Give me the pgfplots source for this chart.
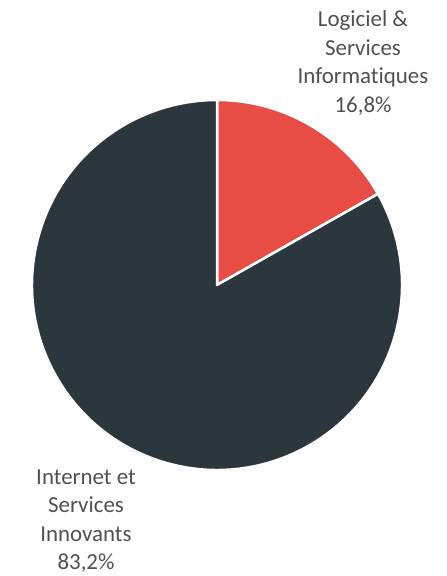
\documentclass[border=0pt]{standalone}
\usepackage{pgfplots}
\usepackage{pgfplotstable}
\pgfplotsset{compat=1.18}
\usepackage{fontspec}
\setmainfont[Ligatures={NoCommon}]{Carlito}

\definecolor{slicered}{HTML}{E74C45}
\definecolor{slicedark}{HTML}{2B373D}
\definecolor{labelgray}{HTML}{505050}

\pgfplotstableread{
share
16.8
83.2
}\piedata

\begin{document}
\begin{tikzpicture}
\pgfplotstablegetelem{0}{share}\of\piedata \let\va\pgfplotsretval
\pgfplotstablegetelem{1}{share}\of\piedata \let\vb\pgfplotsretval
\pgfmathsetmacro\angA{90-3.6*\va}
\pgfmathsetmacro\angB{\angA-3.6*\vb}
\begin{axis}[
  x=1bp, y=1bp,
  xmin=0, xmax=447, ymin=0, ymax=576,
  hide axis, clip=false,
  scale only axis,
]
\path (axis cs:0,0) rectangle (axis cs:447,576);
\fill[slicered, draw=white, line width=2.5bp, line join=round]
  (axis cs:217,291) -- ++(90:185bp) arc[start angle=90, end angle=\angA, radius=185bp] -- cycle;
\fill[slicedark, draw=white, line width=2.5bp, line join=round]
  (axis cs:217,291) -- ++(\angA:185bp) arc[start angle=\angA, end angle=\angB, radius=185bp] -- cycle;
\node[align=center, text=labelgray, font=\fontsize{23}{28.5}\selectfont]
  at (axis cs:363,513) {Logiciel \&\\Services\\Informatiques\\16,8\%};
\node[align=center, text=labelgray, font=\fontsize{23}{28.5}\selectfont]
  at (axis cs:86,55) {Internet et\\Services\\Innovants\\83,2\%};
\end{axis}
\end{tikzpicture}
\end{document}
